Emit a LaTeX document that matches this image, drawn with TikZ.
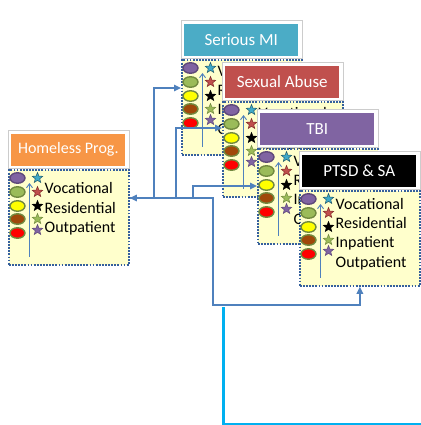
\documentclass[tikz,border=0pt]{standalone}
\usepackage{fontspec}
\setmainfont{Carlito}
\usetikzlibrary{shapes.geometric,arrows.meta,calc}

\definecolor{pfill}{HTML}{FFFFCC}
\definecolor{pborder}{HTML}{35609C}
\definecolor{lineblue}{HTML}{4F81BD}
\definecolor{cyanline}{HTML}{00B0F0}
\definecolor{tOrange}{HTML}{F79646}
\definecolor{tTeal}{HTML}{4BACC6}
\definecolor{tRed}{HTML}{C0504D}
\definecolor{tPurple}{HTML}{8064A2}
\definecolor{cpurple}{HTML}{8064A2}
\definecolor{dpurple}{HTML}{5F497A}
\definecolor{cgreen}{HTML}{9BBB59}
\definecolor{dgreen}{HTML}{71893F}
\definecolor{cyellow}{HTML}{FFFF00}
\definecolor{cbrown}{HTML}{A0480A}
\definecolor{cred}{HTML}{FF0000}
\definecolor{steal}{HTML}{3FA9C8}
\definecolor{dteal}{HTML}{215968}
\definecolor{sred}{HTML}{C0504D}
\definecolor{dred}{HTML}{7F2B28}

\tikzset{
  panel/.style={draw=pborder, fill=pfill, line width=1.8pt,
    dash pattern=on 1.8pt off 1.3pt, minimum width=120pt,
    minimum height=95pt, inner sep=0pt, anchor=north west},
  titleframe/.style={fill=white, draw=gray!40, line width=0.6pt,
    minimum width=121pt, minimum height=38pt, inner sep=0pt, anchor=south west},
  titlebox/.style={minimum width=114pt, minimum height=32pt, inner sep=0pt,
    text=white},
  dot/.style={ellipse, minimum width=15pt, minimum height=10.5pt,
    inner sep=0pt, line width=1.4pt},
  starn/.style={star, star points=5, star point ratio=2.3, minimum size=11pt,
    inner sep=0pt, line width=0.5pt},
  innerarrow/.style={draw=lineblue, line width=0.9pt,
    -{Straight Barb[length=4pt,width=6pt]}},
  conn/.style={draw=lineblue, line width=1.5pt,
    -{Triangle[length=7pt,width=6.5pt]}},
  items/.style={anchor=west, align=left, inner sep=0pt,
    font=\fontsize{16}{19.3}\selectfont},
}

% #1 name, #2/#3 top-left corner of the panel, #4 heading, #5 heading colour,
% #6 heading size, #7 list of services, #8 vertical centre of the list
\newcommand\progcard[8]{%
  \node[panel] (#1) at (#2,#3) {};
  \node[titleframe] (#1f) at ($(#1.north west)+(-0.5,0)$) {};
  \node[titlebox, fill=#5, font=\fontsize{#6}{#6}\selectfont] (#1h) at (#1f.center) {#4};
  \coordinate (#1a) at ($(#1.south west)+(21.5,-9)$);
  \coordinate (#1b) at ($(#1.north west)+(21.5,14)$);
  \draw[innerarrow] (#1a) -- (#1b);
  \foreach \i/\dy/\fc/\dc in {1/9/cpurple/dpurple, 2/23/cgreen/dgreen,
      3/37/cyellow/dgreen, 4/50/cbrown/dgreen, 5/64/cred/dgreen}
    \node[dot, fill=\fc, draw=\dc] (#1e\i) at ($(#1.north west)+(9.5,\dy)$) {};
  \foreach \i/\dy/\fc/\dc in {1/9/steal/dteal, 2/23/sred/dred,
      3/37/black/black, 4/50/cgreen/dgreen, 5/61/cpurple/dpurple}
    \node[starn, fill=\fc, draw=\dc] (#1s\i) at ($(#1.north west)+(29.5,\dy)$) {};
  \node[items] (#1l) at ($(#1.north west)+(36.5,#8)$) {#7};
}

\begin{document}
\begin{tikzpicture}[x=1pt,y=-1pt]
\useasboundingbox (0,0) rectangle (420,425);

\progcard{hp}{8}{169}{Homeless Prog.}{tOrange}{16}{Vocational\\Residential\\Outpatient}{40}
\progcard{smi}{181}{59}{Serious MI}{tTeal}{17}{Vocational\\Residential\\Inpatient\\Outpatient}{42}
\progcard{sab}{222}{101}{Sexual Abuse}{tRed}{17}{Vocational\\Residential\\Inpatient\\Outpatient}{42}
\progcard{tbi}{257}{148}{TBI}{tPurple}{17}{Vocational\\Residential\\Inpatient\\Outpatient}{43}
\progcard{ptsd}{299}{190}{PTSD \& SA}{black}{17}{Vocational\\Residential\\Inpatient\\Outpatient}{44}

% links from the homeless programme to the other programmes
\coordinate (hin) at ($(hp.north east)+(0,29)$);
\coordinate (k1) at (154,88);
\coordinate (k2) at (176,128);
\coordinate (k3) at (193,186);
\coordinate (k4) at (213,305);
\draw[conn] (hin) -| (k1) -- (k1 -| smi.west);
\draw[conn] (hin) -| (k2) -- (k2 -| sab.west);
\draw[conn] (hin) -| (k3) -- (k3 -| tbi.west);
\draw[conn, {Triangle[length=7pt,width=6.5pt]}-{Triangle[length=7pt,width=6.5pt]}]
  (hin) -| (k4) -| (ptsd.south);

% open link leaving the lower right
\coordinate (c0) at (223,307);
\coordinate (c1) at (223,424);
\coordinate (c2) at (422,424);
\draw[cyanline, line width=3pt] (c0) -- (c1) -- (c2);
\end{tikzpicture}
\end{document}
